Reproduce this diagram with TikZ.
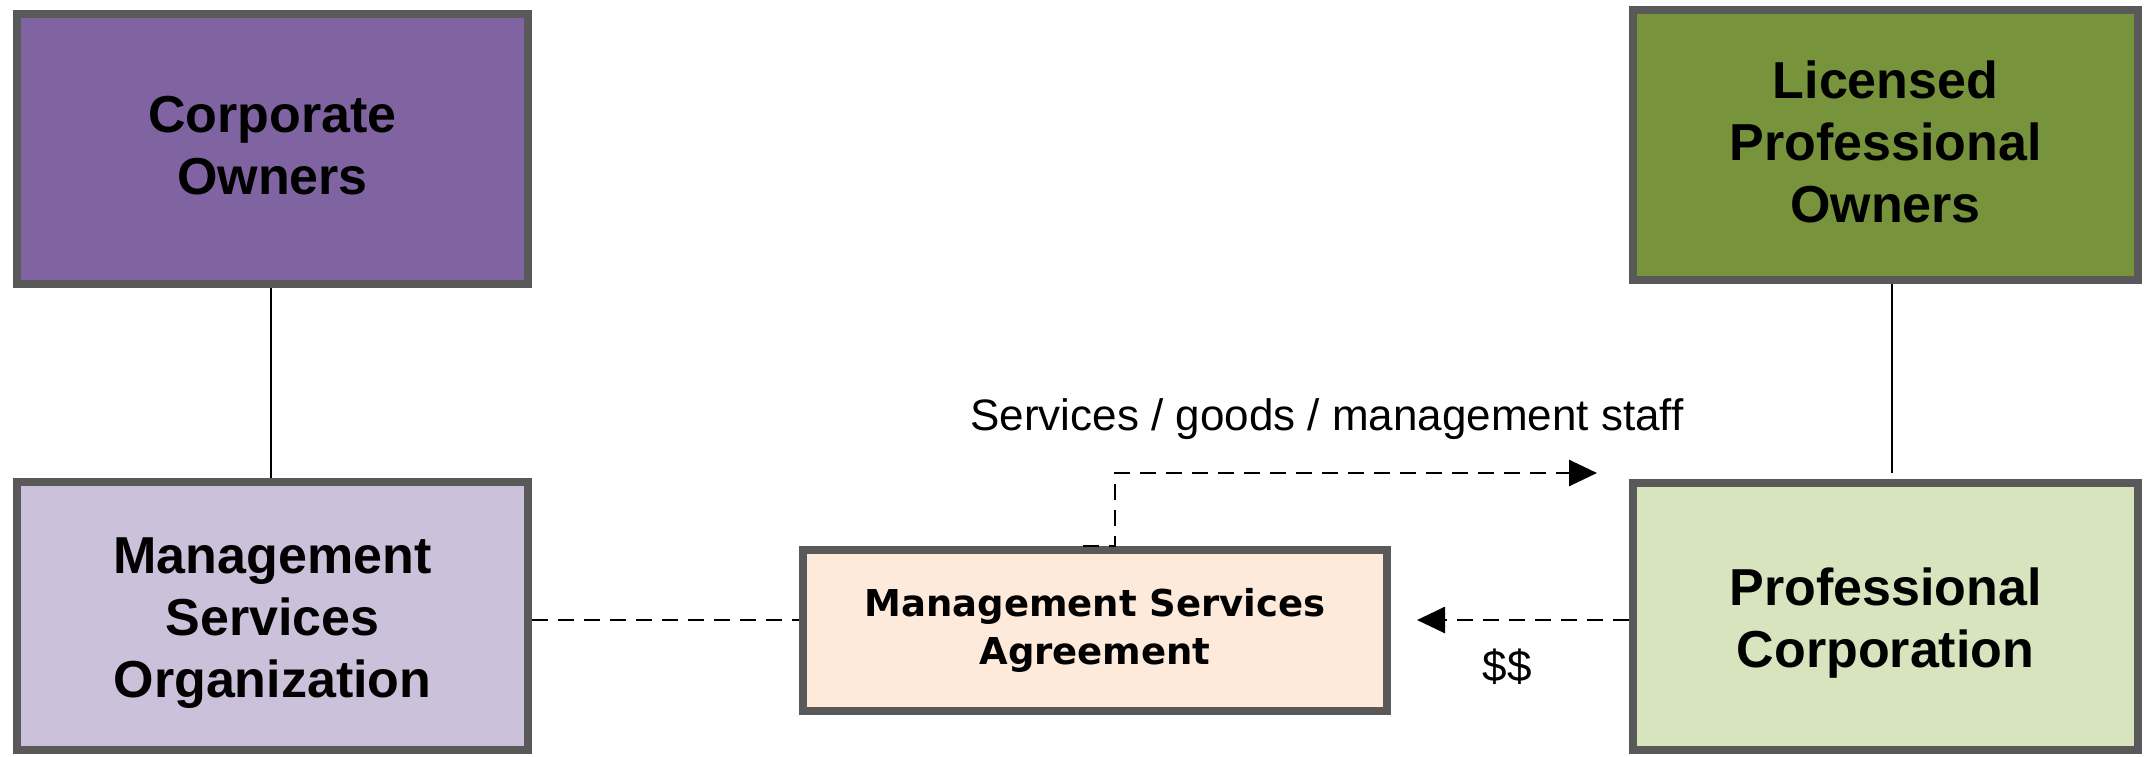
\documentclass[tikz,border=0pt]{standalone}
\usepackage{fontspec}
\setmainfont{Liberation Sans}
\newfontfamily\msafont{DejaVu Sans}
\usetikzlibrary{arrows.meta}
\definecolor{bordergray}{HTML}{595959}
\definecolor{darkpurple}{HTML}{8064A2}
\definecolor{lightpurple}{HTML}{CCC1DA}
\definecolor{olivegreen}{HTML}{77933C}
\definecolor{lightgreen}{HTML}{D7E4BD}
\definecolor{peach}{HTML}{FDEADA}
\tikzset{
  bigbox/.style={draw=bordergray, line width=8pt, inner sep=0pt},
  boxtext/.style={inner sep=0pt, align=center,
    font=\bfseries\fontsize{52}{62}\selectfont},
  msabox/.style={draw=bordergray, line width=8pt, inner sep=0pt, align=center,
    font=\msafont\bfseries\fontsize{37}{48}\selectfont},
  solidlink/.style={draw=black, line width=2.5pt},
  dashlink/.style={draw=black, line width=2.8pt, dash pattern=on 16pt off 10pt},
  arrowlink/.style={dashlink, -{Triangle[length=28pt,width=26pt]}},
  smalllabel/.style={font=\fontsize{44}{52}\selectfont, inner sep=0pt}
}
\begin{document}
\begin{tikzpicture}[x=1pt,y=-1pt]
\useasboundingbox (0,0) rectangle (2146,756);
\node[bigbox, fill=darkpurple, minimum width=511pt, minimum height=270pt,
  label={[boxtext, yshift=3pt]center:{Corporate\\Owners}}] (co) at (272.5,149) {};
\node[bigbox, fill=olivegreen, minimum width=505pt, minimum height=270pt,
  label={[boxtext, yshift=3pt]center:{Licensed\\Professional\\Owners}}] (lpo) at (1885.5,145) {};
\node[bigbox, fill=lightpurple, minimum width=511pt, minimum height=268pt,
  label={[boxtext, yshift=-7pt]center:{Management\\Services\\Organization}}] (mso) at (272.5,616) {};
\node[bigbox, fill=lightgreen, minimum width=505pt, minimum height=267pt,
  label={[boxtext, yshift=-7pt]center:{Professional\\Corporation}}] (pc) at (1885.5,616.5) {};
\node[msabox, fill=peach, minimum width=584pt, minimum height=161pt] (msa) at (1095,630.5) {Management Services\\Agreement};
% rows and free ends
\coordinate (row) at (0,620);
\coordinate (cox) at (271,0);
\coordinate (lpox) at (1892,0);
\coordinate (pcstop) at (1892,473);
\coordinate (hookx) at (1083,0);
\coordinate (elbowx) at (1115,0);
\coordinate (elbowtop) at (1115,473);
\coordinate (sgend) at (1597,473);
% solid ownership links
\draw[solidlink] (co.south -| cox) -- (mso.north -| cox);
\draw[solidlink] (lpo.south -| lpox) -- (pcstop);
% dashed links
\draw[dashlink] (mso.east |- row) -- (msa.west |- row);
\draw[arrowlink, shorten >=26pt] (pc.west |- row) -- (msa.east |- row);
\draw[arrowlink] (msa.north -| hookx) -- (msa.north -| elbowx) -- (elbowtop) -- (sgend);
% labels
\node[smalllabel] (sglabel) at (1327,419) {Services / goods / management staff};
\node[smalllabel] (money) at (1507,667) {\$\$};
\end{tikzpicture}
\end{document}
